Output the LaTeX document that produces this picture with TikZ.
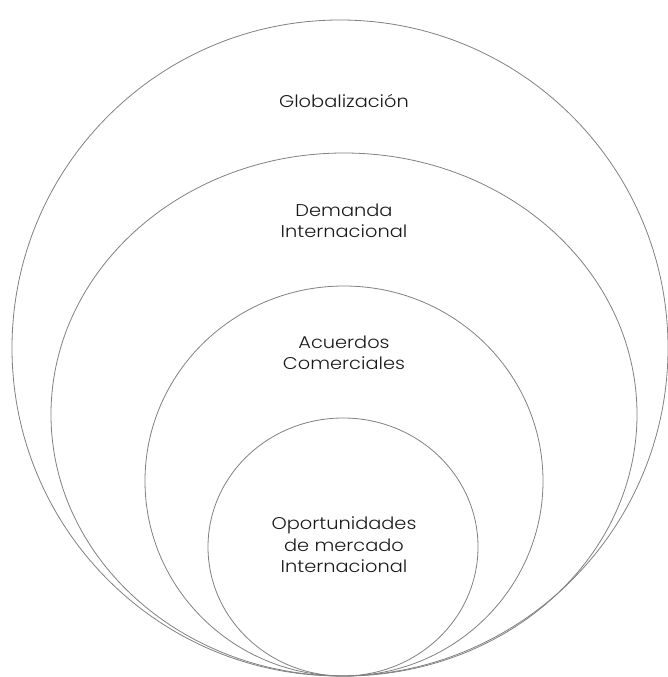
\documentclass[tikz,border=0pt]{standalone}
\usepackage{fontspec}
\setmainfont{Poppins}[UprightFont=* Light, FakeStretch=1.14]
\begin{document}
\begin{tikzpicture}[x=1pt,y=-1pt,
  ring/.style={draw=black!50, line width=0.8pt},
  label/.style={align=center, text=black!90, font=\fontsize{17}{21.5}\selectfont, inner sep=0pt}]
  \useasboundingbox (0,0) rectangle (668,677);
  % nested rings, all resting on the bottom edge
  \draw[ring] (340,348) ellipse [x radius=328, y radius=328];
  \draw[ring] (344,414.5) ellipse [x radius=293, y radius=261.5];
  \draw[ring] (344,481) ellipse [x radius=199, y radius=195];
  \draw[ring] (343,547) ellipse [x radius=135, y radius=129];
  % ring labels
  \node[label] (glob) at (344,101) {Globalización};
  \node[label] (dem)  at (344,221) {Demanda\\Internacional};
  \node[label] (acu)  at (344,353) {Acuerdos\\Comerciales};
  \node[label] (opo)  at (344,545) {Oportunidades\\de mercado\\Internacional};
\end{tikzpicture}
\end{document}
